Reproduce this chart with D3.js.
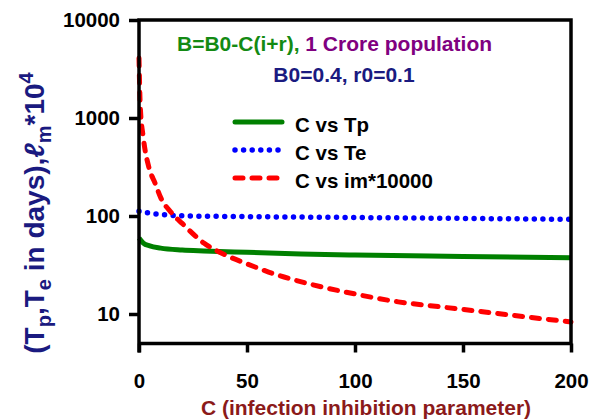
<!DOCTYPE html>
<html>
<head>
<meta charset="utf-8">
<script src="https://cdn.jsdelivr.net/npm/d3@7"></script>
<style>
  body { margin: 0; background: #fff; }
  svg { display: block; font-family: "Liberation Sans", Arial, sans-serif; font-weight: bold; }
</style>
</head>
<body>
<div id="chart"></div>
<script>
// tamaño de la figura
var width = 591, height = 419;

// datos
var cTp = [0, 2, 5, 10, 20, 30, 50, 75, 100, 150, 200];
var tp  = [59.7, 53, 49.5, 47, 45, 44, 42.6, 41, 40, 38.7, 37.5];

var cTe = [0, 4, 13, 25, 50, 100, 150, 200];
var te  = [112, 108, 102.4, 100, 98.5, 96.5, 94.5, 92.5];

var cIm = [0, 0.6, 2, 4.5, 7.5, 10, 15, 20, 30, 40, 50, 60, 80, 100, 120, 140, 160, 180, 200];
var im  = [4090, 1300, 630, 318, 215, 155, 108, 84, 53, 40, 32.5, 26.8, 20, 16, 13.3, 11.8, 10.5, 9.3, 8.3];

var xTicks = [0, 50, 100, 150, 200];
var yTicks = [10, 100, 1000, 10000];

var series = [
  { name: "C vs Tp", c: cTp, v: tp, color: "#008000", dash: null, cap: "butt", w: 5 },
  { name: "C vs Te", c: cTe, v: te, color: "#0000ff", dash: "0,8.6", cap: "round", w: 5.5 },
  { name: "C vs im*10000", c: cIm, v: im, color: "#ff0000", dash: "8,9", cap: "round", w: 5 }
];

var svg = d3.select("#chart").append("svg")
  .attr("width", width)
  .attr("height", height);

var x = d3.scaleLinear().domain([0, 200]).range([139, 571]);
var y = d3.scaleLog().domain([5, 10000]).range([343.5, 20]);

var line = d3.line()
  .x(function(d) { return x(d[0]); })
  .y(function(d) { return y(d[1]); })
  .curve(d3.curveMonotoneX);

// curvas
series.forEach(function(s) {
  var pts = s.c.map(function(c, i) { return [c, s.v[i]]; });
  svg.append("path")
    .attr("d", line(pts))
    .attr("fill", "none")
    .attr("stroke", s.color)
    .attr("stroke-width", s.w)
    .attr("stroke-linecap", s.cap)
    .attr("stroke-dasharray", s.dash);
});

// ejes
var axW = 3.5;
var yAxis = svg.append("g")
  .attr("transform", "translate(" + x(0) + ",0)")
  .call(d3.axisLeft(y).tickValues(yTicks).tickSize(10).tickSizeOuter(0).tickPadding(9)
    .tickFormat(d3.format("d")));
yAxis.select(".domain").remove();
yAxis.selectAll(".tick line").attr("stroke", "#000").attr("stroke-width", axW);
yAxis.selectAll(".tick text").attr("fill", "#000").style("font-size", "20.5px").style("font-weight", "bold");

var xAxis = svg.append("g")
  .attr("transform", "translate(0," + y(5) + ")")
  .call(d3.axisBottom(x).tickValues(xTicks).tickSize(9).tickSizeOuter(0).tickPadding(21));
xAxis.select(".domain").remove();
xAxis.selectAll(".tick line").attr("stroke", "#000").attr("stroke-width", axW);
xAxis.selectAll(".tick text").attr("fill", "#000").style("font-size", "20.5px").style("font-weight", "bold");

// marco
svg.append("path")
  .attr("d", "M" + x(0) + "," + (y(5) + 9) + "V" + y(10000) + "H" + x(200) + "V" + y(5) + "H" + x(0))
  .attr("fill", "none")
  .attr("stroke", "#000")
  .attr("stroke-width", axW)
  .attr("stroke-linejoin", "miter");

// titulo
var t1 = svg.append("text").attr("x", 177).attr("y", 51).style("font-size", "21px");
t1.append("tspan").attr("fill", "#138a13").text("B=B0-C(i+r), ");
t1.append("tspan").attr("fill", "#800080").text("1 Crore population");
svg.append("text").attr("x", 344).attr("y", 82).attr("text-anchor", "middle")
  .attr("fill", "#1a1a80").style("font-size", "21px").text("B0=0.4, r0=0.1");

// leyenda
var legY = [122, 150, 178];
series.forEach(function(s, i) {
  svg.append("line")
    .attr("x1", 235).attr("x2", 282)
    .attr("y1", legY[i]).attr("y2", legY[i])
    .attr("stroke", s.color)
    .attr("stroke-width", s.w)
    .attr("stroke-linecap", s.cap === "butt" ? "round" : s.cap)
    .attr("stroke-dasharray", s.dash);
  svg.append("text")
    .attr("x", 295).attr("y", legY[i] + 10)
    .attr("fill", "#000").style("font-size", "20.5px")
    .text(s.name);
});

// titulos de ejes
svg.append("text")
  .attr("x", x(100) + 11).attr("y", 415)
  .attr("text-anchor", "middle")
  .attr("fill", "#8b1a1a")
  .style("font-size", "21px")
  .text("C (infection inhibition parameter)");

var yl = svg.append("text")
  .attr("transform", "translate(44,213) rotate(-90)")
  .attr("text-anchor", "middle")
  .attr("fill", "#1a1a80")
  .style("font-size", "28px");
yl.append("tspan").text("(T");
yl.append("tspan").attr("dy", 7).style("font-size", "20px").text("p");
yl.append("tspan").attr("dy", -7).text(",T");
yl.append("tspan").attr("dy", 7).style("font-size", "20px").text("e");
yl.append("tspan").attr("dy", -7).text(" in days),");
yl.append("tspan").style("font-style", "italic").text("ℓ");
yl.append("tspan").attr("dy", 7).style("font-size", "20px").text("m");
yl.append("tspan").attr("dy", -7).text("*10");
yl.append("tspan").attr("dy", -11).style("font-size", "20px").text("4");
</script>
</body>
</html>
